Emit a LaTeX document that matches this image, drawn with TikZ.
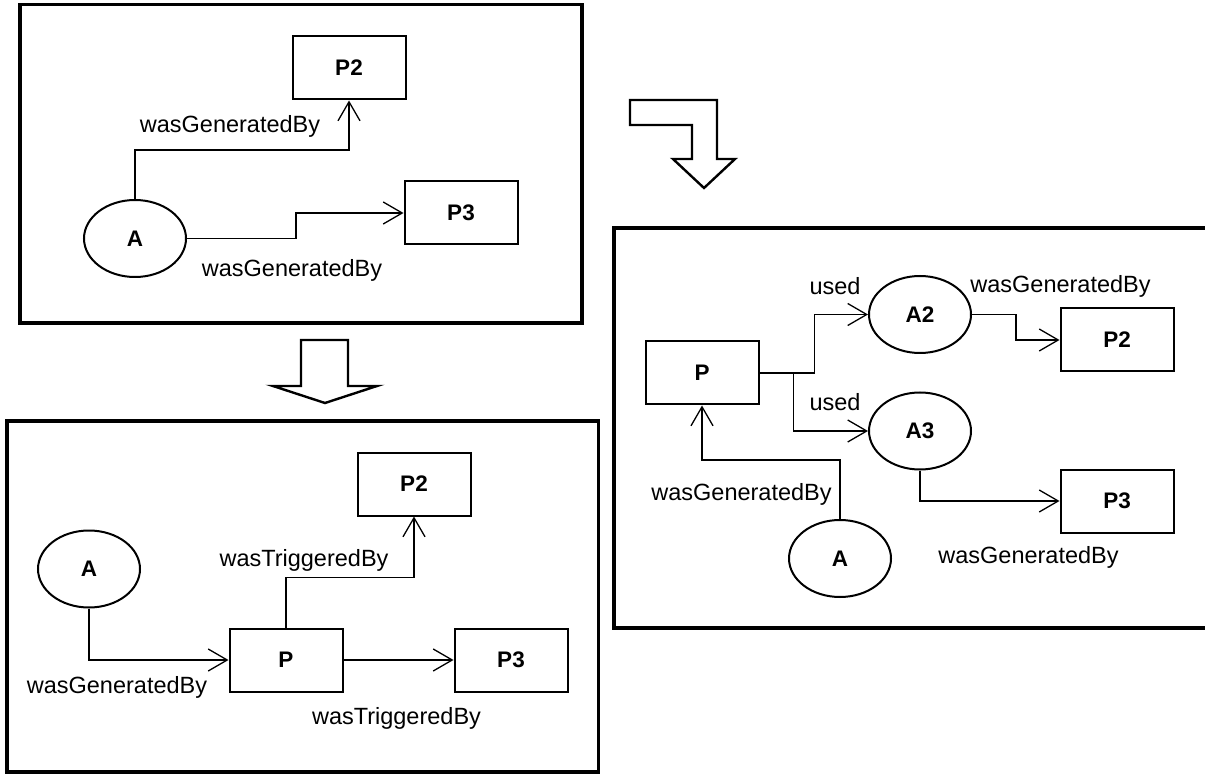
\documentclass[tikz,border=0pt]{standalone}
\usepackage{fontspec}
\setmainfont{Liberation Sans}
\usetikzlibrary{arrows.meta,shapes.geometric}

\tikzset{
  frame/.style={draw, line width=3.5pt},
  proc/.style={draw, line width=2pt, rectangle, minimum width=113pt, minimum height=63pt,
    inner sep=0pt, font=\bfseries\fontsize{22.5}{27}\selectfont},
  artf/.style={draw, line width=2pt, ellipse, minimum width=102pt, minimum height=77pt,
    inner sep=0pt, font=\bfseries\fontsize{22.5}{27}\selectfont},
  conn/.style={line width=1.3pt, -{Straight Barb[length=19pt,width=22pt,line width=1.3pt]}},
  lbl/.style={inner sep=0pt, font=\fontsize{23.5}{28}\selectfont},
  blockarrow/.style={draw, line width=2.4pt, line join=miter, fill=white},
}

\begin{document}
\begin{tikzpicture}[x=1pt,y=-1pt]
\useasboundingbox (0,0) rectangle (1205,775);
\fill[white] (0,0) rectangle (1205,775);

% ---------- upper left: one artifact generated by two processes ----------
\draw[frame] (20,4.5) rectangle (582,323);
\node[artf] (a1) at (135,238.5) {A};
\node[proc] (a1p2) at (349,68) {P2};
\node[proc] (a1p3) at (461,213) {P3};
\draw[conn] (a1.north) -- ++(0,-49) -| (a1p2.south);
\draw[conn] (a1.east) -- ++(109,0) |- (a1p3.west);
\node[lbl] (a1l1) at (230,126.7) {wasGeneratedBy};
\node[lbl] (a1l2) at (292,270) {wasGeneratedBy};

% ---------- straight block arrow ----------
\draw[blockarrow] (301,340) -- (348,340) -- (348,386) -- (377,386) -- (325,403)
  -- (273,386) -- (301,386) -- cycle;

% ---------- bent block arrow ----------
\draw[blockarrow] (630,100) -- (717,100) -- (717,159) -- (735,159) -- (704,188)
  -- (673,159) -- (692,159) -- (692,125) -- (630,125) -- cycle;

% ---------- lower left: triggering variant ----------
\draw[frame] (7,421) rectangle (598.5,772);
\node[artf] (b1) at (89,569) {A};
\node[proc] (b1p) at (286,660) {P};
\node[proc] (b1p2) at (414,484) {P2};
\node[proc] (b1p3) at (511,660) {P3};
\draw[conn] (b1.south) |- (b1p.west);
\draw[conn] (b1p.north) -- ++(0,-50) -| (b1p2.south);
\draw[conn] (b1p.east) -- (b1p3.west);
\node[lbl] (b1l1) at (117,687) {wasGeneratedBy};
\node[lbl] (b1l2) at (304,560) {wasTriggeredBy};
\node[lbl] (b1l3) at (396.5,718) {wasTriggeredBy};

% ---------- right: artifacts split into A2 and A3 ----------
\draw[frame] (614,228) rectangle (1222,628);
\node[proc] (c1p) at (702,373) {P};
\node[artf] (c1a2) at (920,314.5) {A2};
\node[artf] (c1a3) at (920,431) {A3};
\node[proc] (c1p2) at (1117,340) {P2};
\node[proc] (c1p3) at (1117,501) {P3};
\node[artf] (c1a) at (840,558.5) {A};
\draw[conn] (c1p.east) -- ++(55,0) |- (c1a2.west);
\draw[conn] ([xshift=34pt]c1p.east) |- (c1a3.west);
\draw[conn] (c1a2.east) -- ++(44,0) |- (c1p2.west);
\draw[conn] (c1a3.south) |- (c1p3.west);
\draw[conn] (c1a.north) -- ++(0,-59) -| (c1p.south);
\node[lbl] (c1l1) at (835,286) {used};
\node[lbl] (c1l2) at (835,402.5) {used};
\node[lbl] (c1l3) at (1060.5,286) {wasGeneratedBy};
\node[lbl] (c1l4) at (1028.5,557.5) {wasGeneratedBy};
\node[lbl] (c1l5) at (741.5,494) {wasGeneratedBy};
\end{tikzpicture}
\end{document}
